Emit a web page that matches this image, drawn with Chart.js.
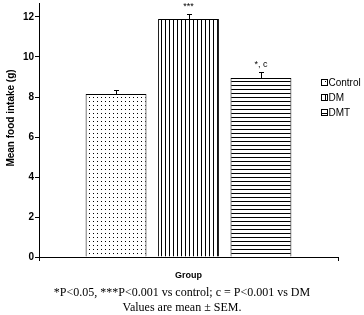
<!DOCTYPE html>
<html>
<head>
<meta charset="utf-8">
<script src="https://cdn.jsdelivr.net/npm/chart.js@4.4.1/dist/chart.umd.min.js"></script>
<style>
  html, body { margin: 0; padding: 0; background: #fff; }
  #wrap { width: 364px; height: 315px; }
</style>
</head>
<body>
<div id="wrap"><canvas id="food"></canvas></div>
<script>
// groups and values
const groups = ['Control', 'DM', 'DMT'];
const meanIntake = [8.15, 11.9, 8.95];
const sem = [0.2, 0.25, 0.3];
const sigLabels = ['', '***', '*, c'];
const yTicks = [0, 2, 4, 6, 8, 10, 12];
const footnotes = ['*P<0.05, ***P<0.001 vs control; c = P<0.001 vs DM', 'Values are mean \u00b1 SEM.'];

// small fill patterns for the bars
function makePattern(kind) {
    const c = document.createElement('canvas');
    const ctx = c.getContext('2d');
    c.width = 4; c.height = 4;
    ctx.fillStyle = '#fff'; ctx.fillRect(0, 0, 4, 4);
    ctx.fillStyle = '#000';
    if (kind === 'dots') ctx.fillRect(1, 1, 1, 1);
    else if (kind === 'vert') ctx.fillRect(1, 0, 1, 4);
    else ctx.fillRect(0, 1, 4, 1);
    return ctx.createPattern(c, 'repeat');
}
const fills = [makePattern('dots'), makePattern('vert'), makePattern('horz')];

const sans = '"Liberation Sans", Arial, sans-serif';

// error bars, significance marks, legend, y title and footnotes
const extras = {
    id: 'extras',
    afterDatasetsDraw(chart) {
        const ctx = chart.ctx;
        const y = chart.scales.y;
        ctx.save();
        chart.data.datasets.forEach((ds, i) => {
            const bar = chart.getDatasetMeta(i).data[0];
            const top = y.getPixelForValue(meanIntake[i] + sem[i]);
            const bx = Math.round(bar.x) + 0.5;
            ctx.strokeStyle = '#000';
            ctx.lineWidth = 1;
            ctx.beginPath();
            ctx.moveTo(bx, bar.y);
            ctx.lineTo(bx, Math.round(top) + 0.5);
            ctx.moveTo(bx - 2.5, Math.round(top) + 0.5);
            ctx.lineTo(bx + 2.5, Math.round(top) + 0.5);
            ctx.stroke();
            if (sigLabels[i]) {
                ctx.fillStyle = '#000';
                ctx.font = '9px ' + sans;
                ctx.textAlign = 'center';
                ctx.textBaseline = 'bottom';
                ctx.fillText(sigLabels[i], bar.x, top - 3);
            }
        });
        // legend
        ctx.font = '10px ' + sans;
        ctx.textAlign = 'left';
        ctx.textBaseline = 'middle';
        chart.data.datasets.forEach((ds, i) => {
            const cy = 83 + 15 * i;
            ctx.fillStyle = ds.backgroundColor;
            ctx.fillRect(321, cy - 3, 6, 6);
            ctx.strokeStyle = '#000';
            ctx.strokeRect(321.5, cy - 3.5, 6, 6);
            ctx.fillStyle = '#000';
            ctx.fillText(ds.label, 328.5, cy);
        });
        // y axis title
        ctx.save();
        ctx.translate(11, 118);
        ctx.rotate(-Math.PI / 2);
        ctx.font = 'bold 10px ' + sans;
        ctx.textAlign = 'center';
        ctx.fillText('Mean food intake (g)', 0, 0);
        ctx.restore();
        // footnotes
        ctx.font = '12px "Liberation Serif", "Times New Roman", serif';
        ctx.textAlign = 'center';
        footnotes.forEach((t, i) => ctx.fillText(t, 182, 293 + 15 * i));
        ctx.restore();
    }
};

new Chart(document.getElementById('food'), {
    type: 'bar',
    data: {
        labels: ['Group'],
        datasets: groups.map((g, i) => ({
            label: g,
            data: [meanIntake[i]],
            backgroundColor: fills[i],
            borderColor: '#000',
            borderWidth: 1,
            categoryPercentage: 0.727,
            barPercentage: 0.84
        }))
    },
    options: {
        responsive: true,
        maintainAspectRatio: false,
        animation: false,
        layout: { padding: { top: 3, right: 26, left: 0, bottom: 32 } },
        plugins: {
            legend: { display: false },
            tooltip: { enabled: false }
        },
        scales: {
            x: {
                offset: true,
                grid: { drawOnChartArea: false, tickLength: 4, color: '#000' },
                border: { color: '#000', width: 1 },
                ticks: { display: false },
                title: {
                    display: true,
                    text: 'Group',
                    color: '#000',
                    font: { family: sans, size: 9, weight: 'bold', lineHeight: 1.2 },
                    padding: { top: 0, bottom: 2 }
                },
                afterFit(scale) { scale.height = 26; }
            },
            y: {
                min: 0,
                max: 12.7,
                afterBuildTicks(scale) { scale.ticks = yTicks.map(v => ({ value: v })); },
                grid: { drawOnChartArea: false, tickLength: 4, color: '#000' },
                border: { color: '#000', width: 1 },
                ticks: {
                    color: '#000',
                    padding: 1,
                    font: { family: sans, size: 10, weight: 'bold' }
                },
                afterFit(scale) {
                    scale.width = 39;
                    scale.paddingTop = 0;
                    scale.paddingBottom = 0;
                }
            }
        }
    },
    plugins: [extras]
});
</script>
</body>
</html>
